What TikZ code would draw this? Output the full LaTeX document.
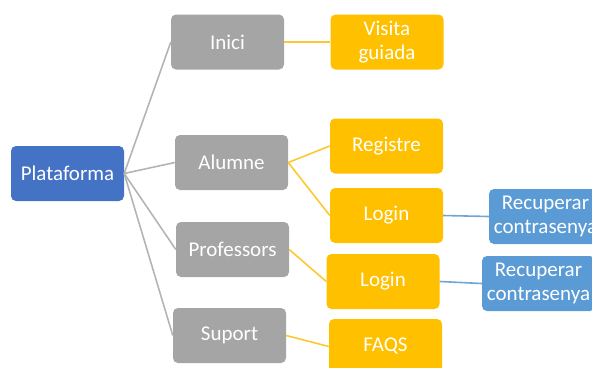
\documentclass[tikz,border=0pt]{standalone}
\usepackage{fontspec}
\setmainfont{Carlito}
\definecolor{cblue}{HTML}{4472C4}
\definecolor{cgray}{HTML}{A5A5A5}
\definecolor{corange}{HTML}{FFC000}
\definecolor{clblue}{HTML}{5B9BD5}
\definecolor{lgray}{HTML}{B4B4B4}
\definecolor{lorange}{HTML}{FFC830}
\definecolor{llblue}{HTML}{6FA6DA}
\tikzset{
  box/.style={rounded corners=5pt, minimum width=113pt, minimum height=55pt, inner sep=2pt,
    text=white, align=center, font=\fontsize{21pt}{24pt}\selectfont},
  rootbox/.style={box, fill=cblue},
  graybox/.style={box, fill=cgray},
  orangebox/.style={box, fill=corange},
  bluebox/.style={box, fill=clblue},
  glink/.style={draw=lgray, line width=1.6pt},
  olink/.style={draw=lorange, line width=1.6pt},
  blink/.style={draw=llblue, line width=1.6pt},
}
\begin{document}
\begin{tikzpicture}[x=1pt,y=-1pt]
\useasboundingbox (0,0) rectangle (592,367);
\node[rootbox] (plat) at (67.5,173.5) {Plataforma};
\node[graybox] (inici) at (227.5,42) {Inici};
\node[graybox] (alumne) at (231.5,162.5) {Alumne};
\node[graybox] (prof) at (232.5,249.5) {Professors};
\node[graybox] (suport) at (229.5,335.5) {Suport};
\node[orangebox] (visita) at (387,42) {Visita\\guiada};
\node[orangebox] (registre) at (386.5,146) {Registre};
\node[orangebox] (login1) at (386.5,215.5) {Login};
\node[orangebox] (login2) at (383,281.5) {Login};
\node[orangebox] (faqs) at (385.5,346.5) {FAQS};
\node[bluebox] (rec1) at (545.5,216.5) {Recuperar\\contrasenya};
\node[bluebox] (rec2) at (538.5,283.5) {Recuperar\\contrasenya};
\draw[glink] (plat.east) -- (inici.west);
\draw[glink] (plat.east) -- (alumne.west);
\draw[glink] (plat.east) -- (prof.west);
\draw[glink] (plat.east) -- (suport.west);
\draw[olink] (inici.east) -- (visita.west);
\draw[olink] (alumne.east) -- (registre.west);
\draw[olink] (alumne.east) -- (login1.west);
\draw[olink] (prof.east) -- (login2.west);
\draw[olink] (suport.east) -- (faqs.west);
\draw[blink] (login1.east) -- (rec1.west);
\draw[blink] (login2.east) -- (rec2.west);
\end{tikzpicture}
\end{document}
